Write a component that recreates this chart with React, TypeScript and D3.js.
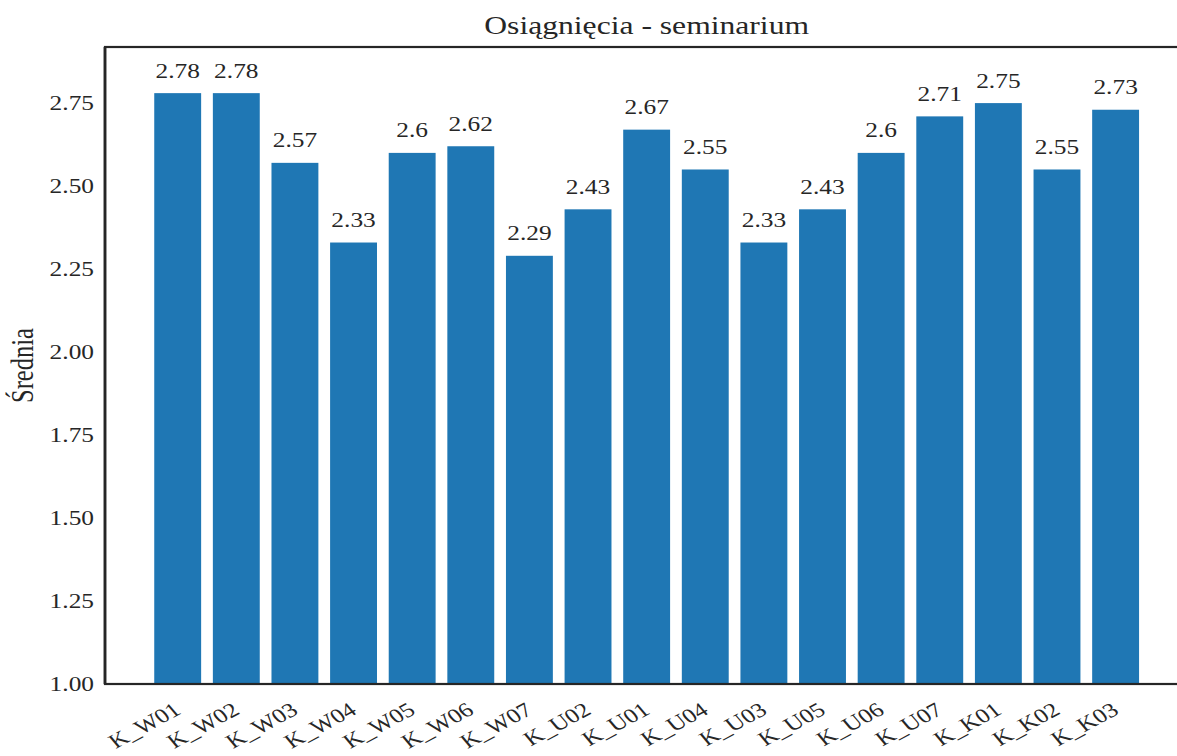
import React from "react";
import * as d3 from "d3";

const categories = [
  "K_W01", "K_W02", "K_W03", "K_W04", "K_W05", "K_W06", "K_W07",
  "K_U02", "K_U01", "K_U04", "K_U03", "K_U05", "K_U06", "K_U07",
  "K_K01", "K_K02", "K_K03",
];
const values = [
  2.78, 2.78, 2.57, 2.33, 2.6, 2.62, 2.29,
  2.43, 2.67, 2.55, 2.33, 2.43, 2.6, 2.71,
  2.75, 2.55, 2.73,
];
const valueLabels = [
  "2.78", "2.78", "2.57", "2.33", "2.6", "2.62", "2.29",
  "2.43", "2.67", "2.55", "2.33", "2.43", "2.6", "2.71",
  "2.75", "2.55", "2.73",
];
const yTicks = [1.0, 1.25, 1.5, 1.75, 2.0, 2.25, 2.5, 2.75];
const title = "Osiągnięcia - seminarium";
const yLabel = "Średnia";

const W = 1177;
const H = 756;
const SX = 1.25;
const FONT = "Liberation Serif";
const TXT = "#262626";
const BAR = "#1f77b4";

const left = 105;
const right = 1188.3;
const top = 47;
const bottom = 684;

export default function App() {
  const x = d3
    .scaleBand<string>()
    .domain(categories)
    .range([left, right])
    .paddingInner(0.2)
    .paddingOuter(0.84);
  const y = d3.scaleLinear().domain([1, 2.919]).range([bottom, top]);
  const st = (tx: number, ty: number, rot = 0) =>
    `translate(${tx},${ty}) scale(${SX},1)` + (rot ? ` rotate(${rot})` : "");

  return (
    <div style={{ position: "absolute", left: 0, top: 0 }}>
      <svg width={W} height={H} style={{ display: "block", background: "#fff" }}>
        {categories.map((c, i) => (
          <rect
            key={c}
            x={x(c)}
            y={y(values[i])}
            width={x.bandwidth()}
            height={bottom - y(values[i])}
            fill={BAR}
          />
        ))}
        <rect
          x={left}
          y={top}
          width={right - left}
          height={bottom - top}
          fill="none"
          stroke={TXT}
          strokeWidth={2.2}
        />
        <line x1={left} x2={left} y1={top} y2={bottom} stroke={TXT} strokeWidth={2.8} />
        {yTicks.map((t) => (
          <text
            key={t}
            transform={st(left - 11, y(t) + 7)}
            textAnchor="end"
            fontFamily={FONT}
            fontSize={20.3}
            fill={TXT}
          >
            {d3.format(".2f")(t)}
          </text>
        ))}
        {categories.map((c, i) => (
          <text
            key={"v" + c}
            transform={st(x(c)! + x.bandwidth() / 2, y(values[i]) - 15.5)}
            textAnchor="middle"
            fontFamily={FONT}
            fontSize={20.3}
            fill={TXT}
          >
            {valueLabels[i]}
          </text>
        ))}
        {categories.map((c) => (
          <text
            key={"x" + c}
            transform={st(x(c)! + x.bandwidth() / 2 + 4.6, bottom + 29, -34)}
            textAnchor="end"
            fontFamily={FONT}
            fontSize={20.3}
            fill={TXT}
          >
            {c}
          </text>
        ))}
        <text
          transform={st((left + right) / 2, 34)}
          textAnchor="middle"
          fontFamily={FONT}
          fontSize={25.3}
          fill={TXT}
        >
          {title}
        </text>
        <text
          transform={st(33, (top + bottom) / 2, -90)}
          textAnchor="middle"
          fontFamily={FONT}
          fontSize={24.5}
          fill={TXT}
        >
          {yLabel}
        </text>
      </svg>
    </div>
  );
}
